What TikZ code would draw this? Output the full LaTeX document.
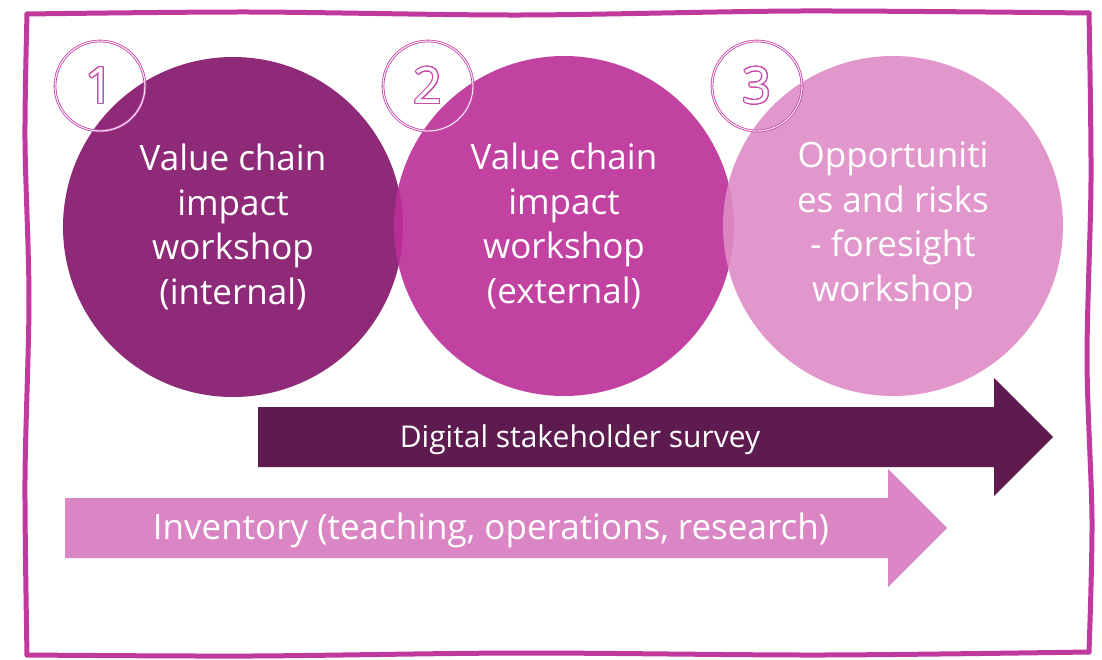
\documentclass[tikz,border=0pt]{standalone}
\usepackage{fontspec}
\usepackage[copies]{contour}
\setmainfont{Open Sans}
\definecolor{discA}{HTML}{8E2A78}
\definecolor{discB}{HTML}{BB2E98}
\definecolor{discC}{HTML}{DE8CC7}
\definecolor{arrowDark}{HTML}{5E1B4F}
\definecolor{arrowLight}{HTML}{DB86C4}
\definecolor{frameCol}{HTML}{C03A9E}
\definecolor{ringCol}{HTML}{C74CAB}
\contourlength{1pt}
\contournumber{24}
\newcommand{\ringdigit}[1]{\contour{ringCol}{\textcolor{white}{#1}}}
\tikzset{
  bigdisc/.style={circle, minimum size=340pt, inner sep=0pt,
    text opacity=1, text=white, align=center,
    font=\fontsize{35}{44.5}\selectfont},
  numring/.style={circle, minimum size=90pt, inner sep=0pt, draw=ringCol,
    line width=0.9pt, double=white, double distance=0.9pt,
    font=\fontsize{50}{50}\selectfont},
  bartext/.style={text=white},
  frameline/.style={draw=frameCol, line width=5pt, line cap=round}
}
\begin{document}
\begin{tikzpicture}[x=1pt,y=-1pt]
  \useasboundingbox (0,0) rectangle (1102,659);
  % hand drawn frame
  \draw[frameline] plot[smooth, tension=0.5] coordinates
    {(27,14) (250,12) (520,15) (800,11) (1089,13)};
  \draw[frameline] plot[smooth, tension=0.5] coordinates
    {(1089,13) (1091,180) (1087,360) (1092,520) (1089,652)};
  \draw[frameline] plot[smooth, tension=0.5] coordinates
    {(1089,652) (820,655) (520,653) (250,656) (27,655)};
  \draw[frameline] plot[smooth, tension=0.5] coordinates
    {(27,655) (25,480) (29,300) (25,140) (27,14)};

  % the three workshops
  \node[bigdisc, fill=discA] (disc1) at (233,227)
    {Value chain\\impact\\workshop\\(internal)};
  \node[bigdisc, fill=discB, fill opacity=0.9] (disc2) at (564,226)
    {Value chain\\impact\\workshop\\(external)};
  \node[bigdisc, fill=discC, fill opacity=0.9] (disc3) at (893,226)
    {Opportuniti\\es and risks\\- foresight\\workshop};

  \node[numring] (num1) at (100,86) {\ringdigit{1}};
  \node[numring] (num2) at (428,86) {\ringdigit{2}};
  \node[numring] (num3) at (757,86) {\ringdigit{3}};

  % the two running arrows
  \fill[arrowDark] (258,407) -- (994,407) -- (994,378) -- (1053,437)
    -- (994,496) -- (994,467) -- (258,467) -- cycle;
  \node[bartext, font=\fontsize{30}{36}\selectfont] (survey) at (580,440)
    {Digital stakeholder survey};

  \fill[arrowLight] (65,498) -- (888,498) -- (888,469) -- (947,528)
    -- (888,587) -- (888,558) -- (65,558) -- cycle;
  \node[bartext, font=\fontsize{35}{40}\selectfont] (inventory) at (491,530)
    {Inventory (teaching, operations, research)};
\end{tikzpicture}
\end{document}
